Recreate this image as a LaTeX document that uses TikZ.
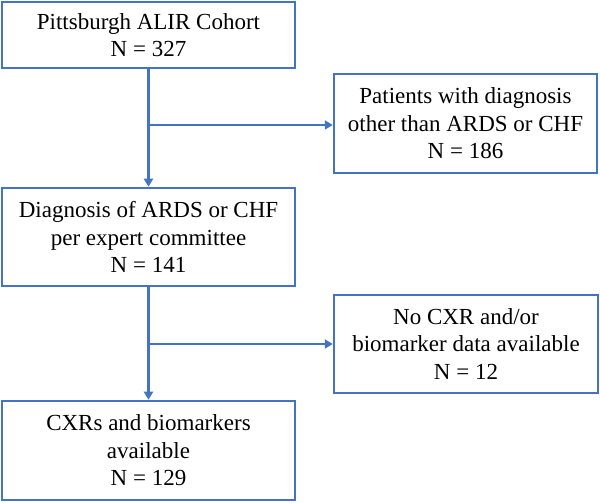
\documentclass[tikz,border=0pt]{standalone}
\usepackage{fontspec}
\setmainfont{Liberation Serif}
\usetikzlibrary{arrows.meta}
\definecolor{flowblue}{HTML}{4472C4}

\begin{document}
\begin{tikzpicture}[x=1pt,y=1pt]

    \useasboundingbox (0,0) rectangle (600,503);

    \begin{scope}[every node/.style={draw=flowblue,line width=2.5pt,align=center,inner sep=0pt,
                  font=\fontsize{23}{27.5}\selectfont}]
        \node[minimum width=293pt,minimum height=66pt] (cohort) at (148.5,468) {Pittsburgh ALIR Cohort\\N = 327};
        \node[minimum width=263pt,minimum height=99pt] (other) at (465.5,379.5) {Patients with diagnosis\\other than ARDS or CHF\\N = 186};
        \node[minimum width=293pt,minimum height=98pt] (diag) at (148.5,266) {Diagnosis of ARDS or CHF\\per expert committee\\N = 141};
        \node[minimum width=264pt,minimum height=98pt] (nodata) at (466,159) {No CXR and/or\\biomarker data available\\N = 12};
        \node[minimum width=293pt,minimum height=99pt] (final) at (148.5,52.5) {CXRs and biomarkers\\available\\N = 129};
    \end{scope}

    \coordinate (split1) at (148.5,378);
    \coordinate (split2) at (148.5,159);

    \begin{scope}[every path/.style={draw=flowblue,line width=2.5pt,-{Triangle[width=9pt,length=8pt]}}]
        \path (cohort) -- (diag);
        \path (split1) -- (split1 -| other.west);
        \path (diag) -- (final);
        \path (split2) -- (split2 -| nodata.west);
    \end{scope}

\end{tikzpicture}
\end{document}
